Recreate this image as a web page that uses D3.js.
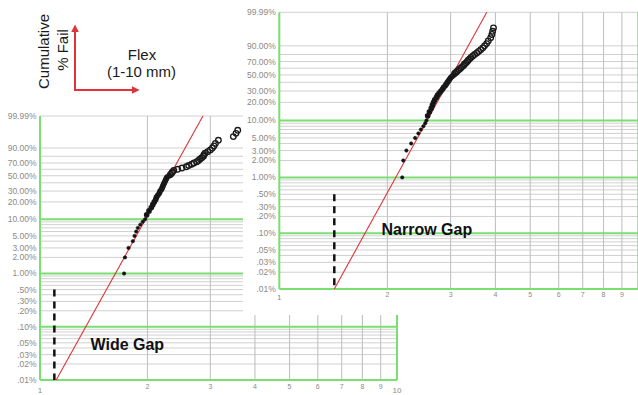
<!DOCTYPE html>
<html>
<head>
<meta charset="utf-8">
<script src="https://cdn.jsdelivr.net/npm/d3@7/dist/d3.min.js"></script>
<style>
  body { margin: 0; background: #fff; }
  svg { display: block; font-family: "Liberation Sans", Arial, sans-serif; }
</style>
</head>
<body>
<div id="chart"></div>
<script>
// wide gap sample (left plot)
const wideFlex = [1.72, 1.73, 1.77, 1.82, 1.84, 1.86, 1.88, 1.91, 1.94, 1.97,
  1.99, 2.02, 2.05, 2.07, 2.09, 2.11, 2.12, 2.14, 2.16, 2.17, 2.19, 2.20, 2.21, 2.22, 2.23,
  2.24, 2.25, 2.26, 2.27, 2.30, 2.32, 2.34, 2.35, 2.37, 2.43, 2.50, 2.57, 2.61, 2.66, 2.70,
  2.75, 2.78, 2.81, 2.84, 2.87, 2.88, 2.90, 2.95, 3.00, 3.04, 3.07, 3.10, 3.16,
  3.48, 3.54, 3.58];
const widePct = [1, 2, 3, 4, 5, 6, 7, 8, 9, 10,
  12, 14, 16, 18, 20, 22, 24, 26, 28, 30, 32, 34, 36, 38, 40,
  42, 44, 46, 48, 50, 52, 54, 56, 58, 60, 62, 64, 66, 68, 70,
  72, 74, 76, 78, 80, 82, 84, 86, 88, 90, 92, 94, 96,
  97.7, 98.7, 99.3];

// narrow gap sample (right plot)
const narrowFlex = [2.20, 2.215, 2.26, 2.33, 2.39, 2.44, 2.48, 2.52, 2.55, 2.57,
  2.59, 2.62, 2.65, 2.67, 2.69, 2.71, 2.74, 2.76, 2.79, 2.82, 2.85, 2.87, 2.90, 2.92, 2.94,
  2.96, 2.98, 3.00, 3.03, 3.06, 3.08, 3.11, 3.14, 3.17, 3.20, 3.23, 3.26, 3.28, 3.31, 3.34,
  3.36, 3.39, 3.42, 3.46, 3.50, 3.55, 3.59, 3.64, 3.69, 3.73, 3.78, 3.82, 3.88,
  3.91, 3.93, 3.95];
const narrowPct = [1, 2, 3, 4, 5, 6, 7, 8, 9, 10,
  12, 14, 16, 18, 20, 22, 24, 26, 28, 30, 32, 34, 36, 38, 40,
  42, 44, 46, 48, 50, 52, 54, 56, 58, 60, 62, 64, 66, 68, 70,
  72, 74, 76, 78, 80, 82, 84, 86, 88, 90, 92, 94, 96,
  97.5, 98.5, 99.2];

// fitted lines and the dashed gap markers
const fitPct = [0.01, 99.99];
const wideFit = [1.11, 2.86];
const narrowFit = [1.423, 3.783];
const gapPct = [0.01, 0.5];
const wideGapAt = 1.097;
const narrowGapAt = 1.423;

// axis values
const gridPct = [0.01, 0.02, 0.03, 0.04, 0.05, 0.06, 0.07, 0.08, 0.09,
  0.1, 0.2, 0.3, 0.4, 0.5, 0.6, 0.7, 0.8, 0.9,
  1, 2, 3, 4, 5, 6, 7, 8, 9,
  10, 20, 30, 40, 50, 60, 70, 80, 90, 99.99];
const greenPct = [0.01, 0.1, 1, 10];
const labelPct = [99.99, 90, 70, 50, 30, 20, 10, 5, 3, 2, 1, 0.5, 0.3, 0.2, 0.1, 0.05, 0.03, 0.02, 0.01];
const flexTicks = [1, 2, 3, 4, 5, 6, 7, 8, 9, 10];

const GREEN = '#7ade70';
const GRID = '#d0d0d0';
const VGRID = '#c2c2c2';
const RED = '#e0343a';

const weib = p => Math.log(-Math.log(1 - p / 100));
const fmtPct = p => {
  const s = d3.format('.2f')(p) + '%';
  return p < 1 ? s.replace(/^0/, '') : s;
};

const svg = d3.select('#chart').append('svg')
  .attr('width', 638)
  .attr('height', 395);

function drawPanel(o) {
  const x = d3.scaleLog().domain([1, 10]).range([o.left, o.right]);
  const zy = d3.scaleLinear().domain([weib(0.01), weib(99.99)]).range([o.bottom, o.top]);
  const y = p => zy(weib(p));
  const g = svg.append('g');

  if (o.cover) {
    g.append('rect')
      .attr('x', o.cover[0]).attr('y', 0)
      .attr('width', 638 - o.cover[0]).attr('height', o.cover[1])
      .attr('fill', '#fff');
  }

  // horizontal grid
  g.selectAll('line.hgrid')
    .data(gridPct.filter(p => !greenPct.includes(p)))
    .enter().append('line')
    .attr('x1', o.left).attr('x2', o.right)
    .attr('y1', d => y(d)).attr('y2', d => y(d))
    .attr('stroke', GRID).attr('stroke-width', 1);

  // vertical grid
  g.selectAll('line.vgrid')
    .data(flexTicks.slice(1, -1))
    .enter().append('line')
    .attr('x1', d => x(d)).attr('x2', d => x(d))
    .attr('y1', o.top).attr('y2', o.bottom)
    .attr('stroke', VGRID).attr('stroke-width', 1.1);

  // green decade lines and frame
  g.selectAll('line.green')
    .data(greenPct)
    .enter().append('line')
    .attr('x1', o.left).attr('x2', o.right)
    .attr('y1', d => y(d)).attr('y2', d => y(d))
    .attr('stroke', GREEN).attr('stroke-width', 2);
  g.selectAll('line.frame')
    .data([1, 10])
    .enter().append('line')
    .attr('x1', d => x(d)).attr('x2', d => x(d))
    .attr('y1', o.top).attr('y2', o.bottom)
    .attr('stroke', GREEN).attr('stroke-width', 2);

  // y labels
  g.selectAll('text.ylab')
    .data(labelPct)
    .enter().append('text')
    .attr('x', o.left - 3.5)
    .attr('y', d => y(d))
    .attr('dy', '0.35em')
    .attr('text-anchor', 'end')
    .attr('font-size', '8.5px')
    .attr('fill', '#8a8a8a')
    .text(fmtPct);

  // x labels (the right plot's "10" falls off the page)
  g.selectAll('text.xlab')
    .data(flexTicks.filter(d => x(d) < 630))
    .enter().append('text')
    .attr('x', d => x(d))
    .attr('y', d => o.bottom + (d === 1 || d === 10 ? o.xlabBig : o.xlab))
    .attr('text-anchor', 'middle')
    .attr('font-size', d => (d === 1 || d === 10 ? '8px' : '7px'))
    .attr('fill', '#8a8a8a')
    .text(d => d);

  // dashed gap marker
  g.append('line')
    .attr('x1', x(o.gapAt)).attr('x2', x(o.gapAt))
    .attr('y1', y(gapPct[1])).attr('y2', y(gapPct[0]))
    .attr('stroke', '#111').attr('stroke-width', 2.5)
    .attr('stroke-dasharray', '7,5');

  // fit line
  g.append('line')
    .attr('x1', x(o.fit[0])).attr('x2', x(o.fit[1]))
    .attr('y1', y(fitPct[0])).attr('y2', y(fitPct[1]))
    .attr('stroke', RED).attr('stroke-width', 1.1);

  // points: small dots at the tail, filled markers in the dense middle, open circles above
  const pts = o.flex.map((v, i) => ({ v, p: o.pct[i] }));
  g.selectAll('circle.pt')
    .data(pts)
    .enter().append('circle')
    .attr('cx', d => x(d.v))
    .attr('cy', d => y(d.p))
    .attr('r', d => (d.p <= 10 ? 1.7 : d.p <= 50 ? 2.2 : 2.8))
    .attr('fill', d => (d.p <= 50 ? '#111' : 'none'))
    .attr('stroke', '#1a1a1a')
    .attr('stroke-width', d => (d.p <= 10 ? 0.6 : 1.3));

  svg.append('text')
    .attr('x', o.label[1]).attr('y', o.label[2])
    .attr('font-size', '16px')
    .attr('font-weight', 'bold')
    .attr('fill', '#111')
    .text(o.label[0]);
}

drawPanel({
  left: 40, right: 397, top: 116, bottom: 380,
  flex: wideFlex, pct: widePct, fit: wideFit, gapAt: wideGapAt,
  xlab: 9, xlabBig: 13,
  label: ['Wide Gap', 90.5, 350]
});

drawPanel({
  left: 279.3, right: 638.3, top: 12.3, bottom: 289,
  flex: narrowFlex, pct: narrowPct, fit: narrowFit, gapAt: narrowGapAt,
  xlab: 8, xlabBig: 10.5,
  cover: [243, 315],
  label: ['Narrow Gap', 381.5, 235]
});

// axes legend, top left
const defs = svg.append('defs');
defs.append('marker')
  .attr('id', 'arrow')
  .attr('viewBox', '0 0 10 10')
  .attr('refX', 8).attr('refY', 5)
  .attr('markerWidth', 4).attr('markerHeight', 4)
  .attr('orient', 'auto')
  .append('path')
  .attr('d', 'M0,0L10,5L0,10z')
  .attr('fill', RED);

svg.append('path')
  .attr('d', 'M75,91V26')
  .attr('stroke', RED).attr('stroke-width', 2).attr('fill', 'none')
  .attr('marker-end', 'url(#arrow)');
svg.append('path')
  .attr('d', 'M74,90H138')
  .attr('stroke', RED).attr('stroke-width', 2).attr('fill', 'none')
  .attr('marker-end', 'url(#arrow)');

svg.append('text')
  .attr('transform', 'translate(48.5,51.5) rotate(-90)')
  .attr('text-anchor', 'middle')
  .attr('font-size', '15px').attr('fill', '#1a1a1a')
  .text('Cumulative');
svg.append('text')
  .attr('transform', 'translate(67.5,50) rotate(-90)')
  .attr('text-anchor', 'middle')
  .attr('font-size', '15px').attr('fill', '#1a1a1a')
  .text('% Fail');
svg.append('text')
  .attr('x', 142).attr('y', 59.5)
  .attr('text-anchor', 'middle')
  .attr('font-size', '15px').attr('fill', '#1a1a1a')
  .text('Flex');
svg.append('text')
  .attr('x', 141.5).attr('y', 76.5)
  .attr('text-anchor', 'middle')
  .attr('font-size', '15px').attr('fill', '#1a1a1a')
  .text('(1-10 mm)');
</script>
</body>
</html>
